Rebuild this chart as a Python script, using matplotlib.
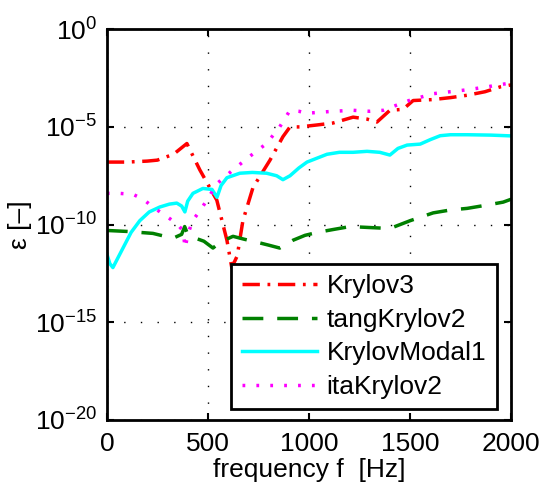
import numpy as np
import matplotlib
matplotlib.use('Agg')
from matplotlib import pyplot as plt

plt.rcParams['font.family'] = ['Liberation Sans', 'DejaVu Sans']
plt.rcParams['mathtext.fontset'] = 'custom'
plt.rcParams['mathtext.rm'] = 'Liberation Sans'

# Relative error per reduction method (log10 values over frequency in Hz)
f_krylov3 = [0, 100, 200, 250, 330, 396, 460, 544, 594, 618, 645, 673, 723, 807, 871, 906,
             955, 1040, 1119, 1218, 1287, 1336, 1400, 1465, 1515, 1614, 1700, 1782, 1870, 1946, 2000]
e_krylov3 = [-6.8, -6.8, -6.75, -6.7, -6.4, -5.85, -7.2, -8.75, -10.8, -12.2, -11.6, -9.8,
             -8.1, -6.7, -5.5, -5.0, -5.0, -4.9, -4.8, -4.5, -4.6, -4.75, -4.15, -4.1, -3.65,
             -3.6, -3.5, -3.38, -3.2, -2.95, -2.85]

f_tang = [0, 100, 228, 327, 370, 385, 400, 426, 480, 525, 560, 624, 680, 742, 800, 855,
          921, 980, 1040, 1120, 1203, 1300, 1400, 1500, 1614, 1700, 1782, 1880, 1960, 2000]
e_tang = [-10.3, -10.35, -10.45, -10.7, -10.5, -10.1, -10.5, -10.65, -10.85, -11.2, -10.9,
          -10.6, -10.75, -10.9, -11.05, -11.2, -10.8, -10.55, -10.4, -10.25, -10.1, -10.15,
          -10.2, -9.8, -9.4, -9.25, -9.17, -9.0, -8.85, -8.7]

f_modal = [0, 15, 30, 50, 80, 120, 163, 210, 262, 310, 346, 370, 386, 400, 426, 475, 520,
           545, 565, 594, 658, 720, 790, 840, 871, 906, 950, 990, 1089, 1150, 1218, 1287,
           1350, 1400, 1440, 1485, 1550, 1600, 1649, 1700, 1782, 1900, 2000]
e_modal = [-11.5, -12.0, -12.2, -11.8, -11.2, -10.4, -9.8, -9.35, -9.1, -8.95, -8.9, -9.05,
           -9.35, -8.8, -8.4, -8.15, -8.2, -8.6, -8.0, -7.6, -7.37, -7.33, -7.37, -7.5,
           -7.7, -7.5, -7.1, -6.8, -6.4, -6.3, -6.3, -6.25, -6.3, -6.44, -6.1, -5.93, -5.88,
           -5.65, -5.45, -5.4, -5.4, -5.42, -5.46]

f_ita = [0, 60, 129, 180, 228, 270, 312, 350, 376, 388, 400, 426, 460, 495, 545, 624, 708,
         790, 855, 906, 950, 990, 1119, 1218, 1300, 1367, 1430, 1500, 1614, 1782, 1880, 1980, 2000]
e_ita = [-8.4, -8.4, -8.45, -8.7, -9.1, -9.4, -9.7, -10.0, -10.3, -11.2, -10.5, -9.77,
         -9.3, -8.75, -7.9, -7.2, -6.5, -5.85, -5.0, -4.15, -4.2, -4.3, -4.2, -4.15, -4.2,
         -4.15, -3.9, -3.63, -3.3, -3.1, -2.95, -2.78, -2.75]

series = [
    ('Krylov3', f_krylov3, e_krylov3, 'red', (0, (5, 2.2, 0.8, 2.2))),
    ('tangKrylov2', f_tang, e_tang, 'green', (0, (6, 4))),
    ('KrylovModal1', f_modal, e_modal, 'cyan', '-'),
    ('itaKrylov2', f_ita, e_ita, 'magenta', (0, (0.8, 3.2))),
]

fig = plt.figure(figsize=(5.45, 4.87), dpi=100)
ax = fig.add_axes([0.196, 0.1376, 0.742, 0.8024])

for name, f, e, color, ls in series:
    ax.semilogy(f, 10.0 ** np.array(e), color=color, linestyle=ls, linewidth=2.5, label=name)

ax.set_xlim(0, 2000)
ax.set_ylim(1e-20, 1e0)
ax.set_xticks([0, 500, 1000, 1500, 2000])
ax.set_yticks([1e-20, 1e-15, 1e-10, 1e-5, 1e0])
ax.yaxis.set_minor_locator(matplotlib.ticker.NullLocator())
ax.tick_params(which='both', direction='in', top=True, right=True, labelsize=19,
               length=5, width=1.5, pad=7)
ax.tick_params(axis='x', pad=9)
ax.grid(True, color='black', linestyle=(0, (1, 11)), linewidth=1.0)
for sp in ax.spines.values():
    sp.set_linewidth(2)

ax.set_xlabel('frequency f  [Hz]', fontsize=19, labelpad=1)
ax.set_ylabel('ε [–]', fontsize=19, labelpad=2)

leg = ax.legend(loc='lower right', fontsize=19, frameon=True, fancybox=False,
                handlelength=2.85, handletextpad=0.35, borderpad=0.4, labelspacing=0.36,
                borderaxespad=0.4, bbox_to_anchor=(0.99, 0.0))
leg.get_frame().set_edgecolor('black')
leg.get_frame().set_linewidth(2)
leg.get_frame().set_alpha(1)

fig.savefig('out.png', dpi=100)
